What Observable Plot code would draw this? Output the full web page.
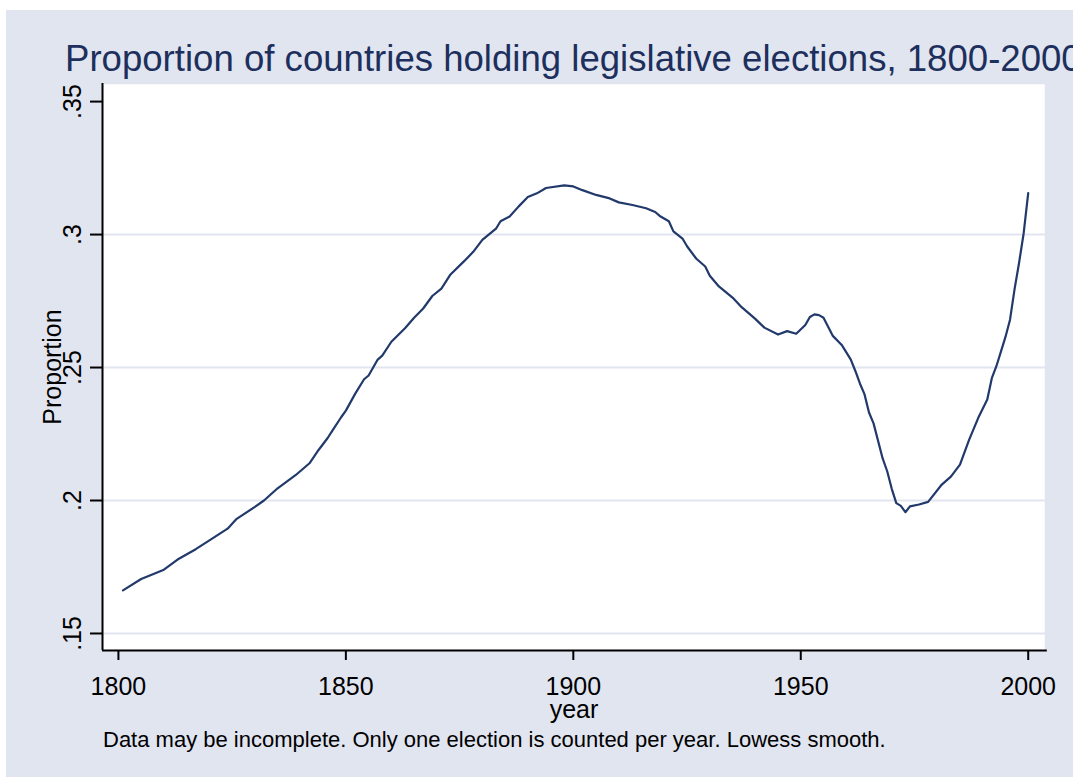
<!DOCTYPE html>
<html>
<head>
<meta charset="utf-8">
<script src="https://cdn.jsdelivr.net/npm/d3@7"></script>
<script src="https://cdn.jsdelivr.net/npm/@observablehq/plot@0.6"></script>
<style>
  html, body { margin: 0; padding: 0; background: #ffffff; }
  body { width: 1079px; height: 777px; position: relative; overflow: hidden;
         font-family: "Liberation Sans", Arial, Helvetica, sans-serif; }
  #panel { position: absolute; left: 6px; top: 10px; width: 1067px; height: 767px;
           background: #e1e5f0; overflow: hidden; }
  #title { position: absolute; left: 59px; top: 30.7px; white-space: nowrap;
           font-size: 36.6px; line-height: 36.6px; color: #1d2f5c; }
  #chart { position: absolute; left: 0; top: 0; }
  #caption { position: absolute; left: 103px; top: 729.4px; white-space: nowrap;
             font-size: 22px; line-height: 22px; color: #000; }
</style>
</head>
<body>
<div id="panel"><div id="title">Proportion of countries holding legislative elections, 1800-2000</div></div>
<div id="chart"></div>
<div id="caption">Data may be incomplete. Only one election is counted per year. Lowess smooth.</div>
<script>
// Lowess-smoothed share of countries that held a legislative election in each year
const years = [
  1801, 1805, 1810, 1813, 1817, 1820, 1824, 1826, 1830, 1832,
  1835, 1839, 1842, 1844, 1846, 1847, 1849, 1850, 1852, 1854,
  1855, 1857, 1858, 1860, 1863, 1865, 1867, 1869, 1871, 1873,
  1876, 1878, 1880, 1883, 1884, 1886, 1888, 1890, 1892, 1894,
  1898, 1900, 1902, 1905, 1908, 1910, 1913, 1916, 1918, 1919,
  1921, 1922, 1924, 1925, 1927, 1929, 1930, 1932, 1935, 1937,
  1940, 1942, 1945, 1947, 1949, 1951, 1952, 1953, 1954, 1955,
  1957, 1959, 1961, 1962, 1963, 1964, 1965, 1966, 1968, 1969,
  1970, 1971, 1972, 1973, 1974, 1976, 1978, 1981, 1983, 1985,
  1987, 1989, 1991, 1992, 1993, 1994, 1995, 1996, 1997, 1998,
  1999, 2000
];
const proportion = [
  0.1662, 0.1705, 0.1740, 0.1778, 0.1817, 0.1850, 0.1894, 0.1931, 0.1976, 0.2000,
  0.2046, 0.2096, 0.2140, 0.2190, 0.2235, 0.2262, 0.2314, 0.2338, 0.2400, 0.2456,
  0.2470, 0.2530, 0.2545, 0.2597, 0.2648, 0.2687, 0.2722, 0.2769, 0.2797, 0.2850,
  0.2900, 0.2935, 0.2980, 0.3022, 0.3050, 0.3068, 0.3106, 0.3141, 0.3155, 0.3175,
  0.3185, 0.3181, 0.3167, 0.3149, 0.3136, 0.3121, 0.3111, 0.3099, 0.3085, 0.3070,
  0.3050, 0.3012, 0.2985, 0.2956, 0.2910, 0.2880, 0.2845, 0.2805, 0.2763, 0.2727,
  0.2683, 0.2650, 0.2624, 0.2637, 0.2627, 0.2660, 0.2690, 0.2700, 0.2697, 0.2687,
  0.2620, 0.2585, 0.2530, 0.2487, 0.2440, 0.2400, 0.2331, 0.2290, 0.2158, 0.2110,
  0.2044, 0.1990, 0.1980, 0.1956, 0.1978, 0.1985, 0.1995, 0.2060, 0.2090, 0.2135,
  0.2228, 0.2310, 0.2380, 0.2460, 0.2505, 0.2560, 0.2615, 0.2680, 0.2795, 0.2895,
  0.3005, 0.3156
];
const xTicks = [1800, 1850, 1900, 1950, 2000];
const yTicks = [0.15, 0.2, 0.25, 0.3, 0.35];
const yTickLabels = [".15", ".2", ".25", ".3", ".35"];
const gridValues = [0.15, 0.2, 0.25, 0.3];

const data = years.map((year, i) => ({year, value: proportion[i]}));
const xDomain = [1796.5, 2003.8];
const yDomain = [0.1436, 0.3568];
const ink = "#22396b";
const bluish = "#e1e5f0";

const chart = Plot.plot({
  width: 1079,
  height: 730,
  marginLeft: 102,
  marginRight: 34,
  marginTop: 83,
  marginBottom: 80,
  style: {background: "transparent", overflow: "visible",
          fontFamily: "'Liberation Sans', Arial, Helvetica, sans-serif", color: "#000"},
  x: {domain: xDomain},
  y: {domain: yDomain},
  marks: [
    Plot.frame({fill: "white", stroke: bluish, strokeWidth: 1.5}),
    Plot.ruleY(gridValues, {stroke: bluish, strokeWidth: 2}),
    Plot.line(data, {x: "year", y: "value", stroke: ink, strokeWidth: 2.2}),
    // axis lines
    Plot.ruleX([xDomain[0]], {stroke: "#000", strokeWidth: 2}),
    Plot.ruleY([yDomain[0]], {stroke: "#000", strokeWidth: 2, x1: xDomain[0], x2: 2004.2}),
    // x axis ticks and labels
    Plot.axisX({ticks: xTicks, tickSize: 10, tickPadding: 17, fontSize: 25,
                strokeWidth: 2, tickFormat: d => String(d), label: null}),
    Plot.text(["year"], {frameAnchor: "bottom", dy: 67, lineAnchor: "bottom",
                         fontSize: 25, fill: "#000"}),
    // y axis ticks with rotated labels
    Plot.axisY({ticks: yTicks, tickSize: 12, strokeWidth: 2,
                tickFormat: () => "", label: null}),
    Plot.text(yTicks, {y: d => d, text: (d, i) => yTickLabels[i], frameAnchor: "left",
                       dx: -22, rotate: -90, textAnchor: "middle", lineAnchor: "bottom",
                       fontSize: 25, fill: "#000"}),
    Plot.text(["Proportion"], {frameAnchor: "left", dx: -42, rotate: -90,
                               textAnchor: "middle", lineAnchor: "bottom",
                               fontSize: 25, fill: "#000"})
  ]
});
document.getElementById("chart").appendChild(chart);
</script>
</body>
</html>
